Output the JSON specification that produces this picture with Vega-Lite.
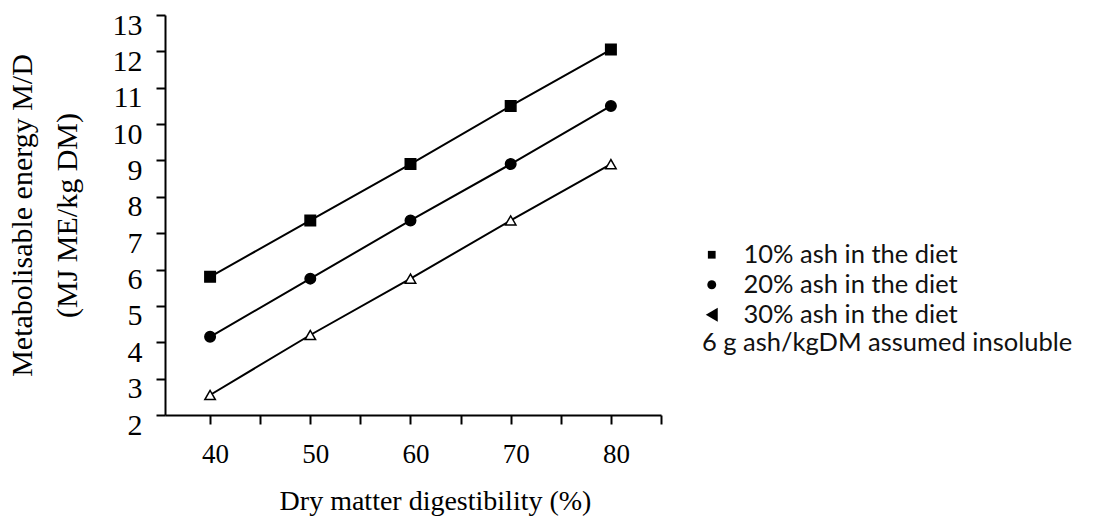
{
  "$schema": "https://vega.github.io/schema/vega-lite/v6.json",
  "width": 496,
  "height": 400,
  "autosize": {"type": "pad"},
  "padding": {"left": 7, "top": 10, "right": 5, "bottom": 5},
  "background": "white",
  "config": {
    "view": {"stroke": null},
    "axis": {
      "grid": false,
      "domainColor": "black",
      "domainWidth": 2,
      "tickColor": "black",
      "tickWidth": 2,
      "tickSize": 9,
      "labelFont": "Liberation Serif",
      "labelColor": "black",
      "titleFont": "Liberation Serif",
      "titleColor": "black",
      "titleFontWeight": "normal"
    },
    "legend": {
      "orient": "none",
      "legendX": 537,
      "legendY": 227,
      "titleOrient": "bottom",
      "titleFont": "Lato",
      "titleFontSize": 25.5,
      "titleFontWeight": "normal",
      "titleColor": "#111",
      "titlePadding": 3,
      "titleLimit": 0,
      "labelFont": "Lato",
      "labelFontSize": 25.5,
      "labelColor": "#111",
      "labelLimit": 0,
      "labelOffset": 19,
      "rowPadding": 3,
      "symbolOffset": -3,
      "symbolOpacity": 1,
      "symbolFillColor": "black",
      "symbolStrokeWidth": 0
    }
  },
  "data": {
    "values": [
      {"dmd": 40, "me": 5.8, "series": "10% ash in the diet"},
      {"dmd": 50, "me": 7.35, "series": "10% ash in the diet"},
      {"dmd": 60, "me": 8.9, "series": "10% ash in the diet"},
      {"dmd": 70, "me": 10.5, "series": "10% ash in the diet"},
      {"dmd": 80, "me": 12.05, "series": "10% ash in the diet"},
      {"dmd": 40, "me": 4.15, "series": "20% ash in the diet"},
      {"dmd": 50, "me": 5.75, "series": "20% ash in the diet"},
      {"dmd": 60, "me": 7.35, "series": "20% ash in the diet"},
      {"dmd": 70, "me": 8.9, "series": "20% ash in the diet"},
      {"dmd": 80, "me": 10.5, "series": "20% ash in the diet"},
      {"dmd": 40, "me": 2.55, "series": "30% ash in the diet"},
      {"dmd": 50, "me": 4.2, "series": "30% ash in the diet"},
      {"dmd": 60, "me": 5.75, "series": "30% ash in the diet"},
      {"dmd": 70, "me": 7.35, "series": "30% ash in the diet"},
      {"dmd": 80, "me": 8.9, "series": "30% ash in the diet"}
    ]
  },
  "encoding": {
    "x": {
      "field": "dmd",
      "type": "quantitative",
      "scale": {"domain": [35.5, 85], "nice": false, "zero": false},
      "axis": {
        "title": "Dry matter digestibility (%)",
        "values": [40, 45, 50, 55, 60, 65, 70, 75, 80, 85],
        "labelExpr": "datum.value % 10 == 0 ? datum.label : ''",
        "labelFontSize": 27,
        "titleFontSize": 28,
        "labelPadding": 17,
        "labelOffset": 5,
        "titlePadding": 20,
        "titleX": 270,
        "titleAlign": "center"
      }
    },
    "y": {
      "field": "me",
      "type": "quantitative",
      "scale": {"domain": [2, 13], "nice": false, "zero": false},
      "axis": {
        "title": ["Metabolisable energy M/D", "(MJ ME/kg DM)"],
        "values": [2, 3, 4, 5, 6, 7, 8, 9, 10, 11, 12, 13],
        "labelFontSize": 30,
        "labelOffset": 10,
        "titleFontSize": 30,
        "labelPadding": 14,
        "titlePadding": 30,
        "titleLineHeight": 45
      }
    }
  },
  "resolve": {"scale": {"shape": "independent", "fill": "independent", "size": "independent"}},
  "layer": [
    {
      "mark": {"type": "line", "color": "black", "strokeWidth": 2},
      "encoding": {"detail": {"field": "series"}}
    },
    {
      "mark": {"type": "point", "filled": true, "stroke": "black", "strokeWidth": 1.5, "opacity": 1, "size": 110},
      "encoding": {
        "fill": {
          "field": "series",
          "scale": {"range": ["black", "black", "white"]},
          "legend": null
        },
        "shape": {
          "field": "series",
          "scale": {"range": ["square", "circle", "triangle-up"]},
          "legend": null
        }
      }
    },
    {
      "mark": {"type": "point", "filled": true, "color": "black", "opacity": 0},
      "encoding": {
        "size": {
          "field": "series",
          "type": "nominal",
          "scale": {"type": "ordinal", "range": [60, 80, 190]},
          "legend": {"title": "6 g ash/kgDM assumed insoluble"}
        },
        "shape": {
          "field": "series",
          "type": "nominal",
          "scale": {"range": ["square", "circle", "triangle-left"]},
          "legend": {"title": "6 g ash/kgDM assumed insoluble"}
        }
      }
    }
  ]
}
